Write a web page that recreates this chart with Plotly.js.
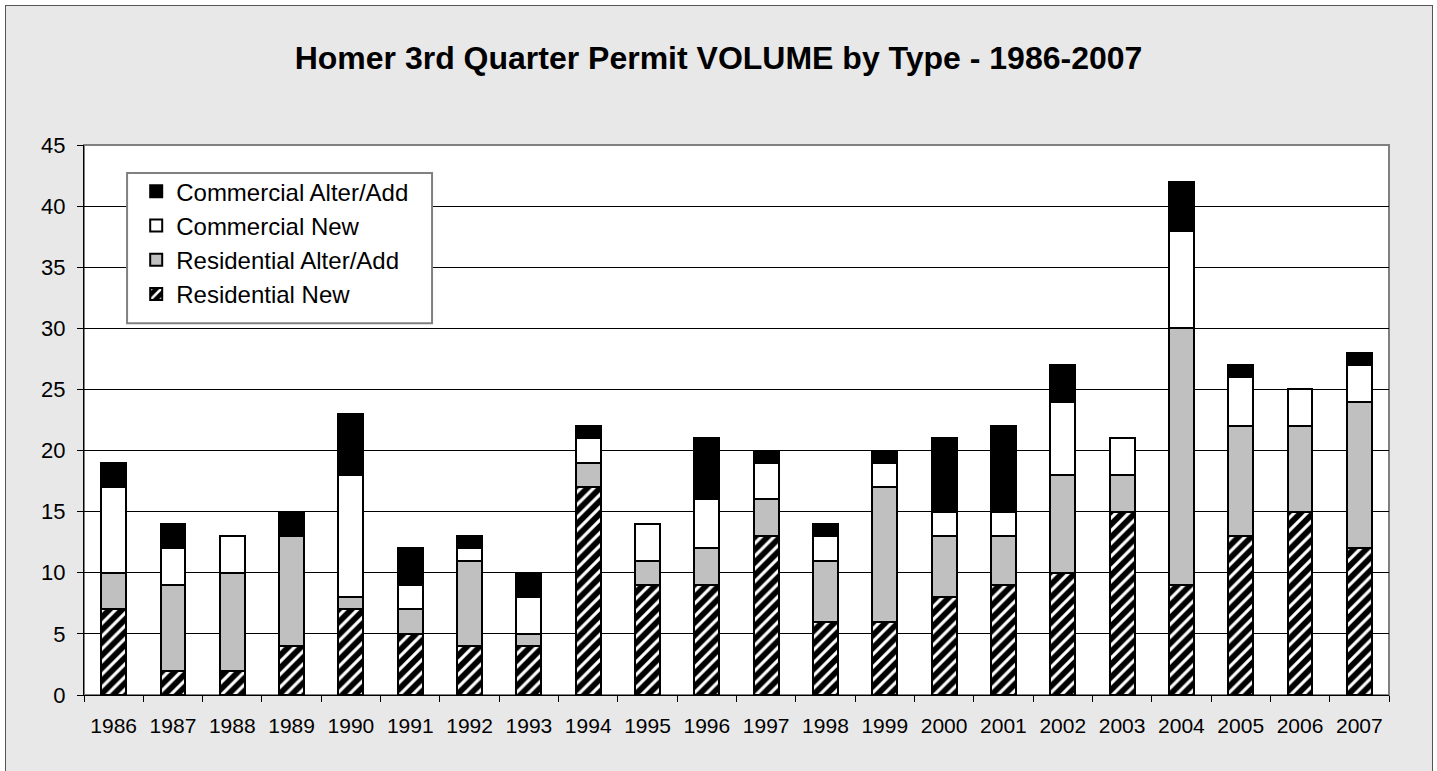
<!DOCTYPE html>
<html>
<head>
<meta charset="utf-8">
<script src="https://cdn.plot.ly/plotly-3.0.1.min.js"></script>
<style>
  html, body { margin: 0; padding: 0; background: #ffffff; }
  #frame { position: absolute; left: 5px; top: 5px; width: 1426px; height: 790px;
           background: #e8e8e8; border: 1px solid #555555; }
  #chart { position: absolute; left: 0; top: 0; width: 1437px; height: 771px; }
</style>
</head>
<body>
<div id="frame"></div>
<div id="chart"></div>
<script>
const years = ['1986','1987','1988','1989','1990','1991','1992','1993','1994','1995','1996',
               '1997','1998','1999','2000','2001','2002','2003','2004','2005','2006','2007'];
const residentialNew   = [7, 2, 2, 4, 7, 5, 4, 4, 17, 9, 9, 13, 6, 6, 8, 9, 10, 15, 9, 13, 15, 12];
const residentialAlter = [3, 7, 8, 9, 1, 2, 7, 1, 2, 2, 3, 3, 5, 11, 5, 4, 8, 3, 21, 9, 7, 12];
const commercialNew    = [7, 3, 3, 0, 10, 2, 1, 3, 2, 3, 4, 3, 2, 2, 2, 2, 6, 3, 8, 4, 3, 3];
const commercialAlter  = [2, 2, 0, 2, 5, 3, 1, 2, 1, 0, 5, 1, 1, 1, 6, 7, 3, 0, 4, 1, 0, 1];
const yTicks = [0, 5, 10, 15, 20, 25, 30, 35, 40, 45];

const line = {color: '#000000', width: 2};
const traces = [
  {name: 'Residential New', x: years, y: residentialNew, type: 'bar',
   marker: {color: '#000000', line: line,
            pattern: {shape: '/', fgcolor: '#ffffff', bgcolor: '#000000', size: 9, solidity: 0.35, fillmode: 'replace'}}},
  {name: 'Residential Alter/Add', x: years, y: residentialAlter, type: 'bar',
   marker: {color: '#c0c0c0', line: line}},
  {name: 'Commercial New', x: years, y: commercialNew, type: 'bar',
   marker: {color: '#ffffff', line: line}},
  {name: 'Commercial Alter/Add', x: years, y: commercialAlter, type: 'bar',
   marker: {color: '#000000', line: line}}
];

const layout = {
  width: 1437, height: 771,
  paper_bgcolor: 'rgba(0,0,0,0)',
  plot_bgcolor: '#ffffff',
  margin: {l: 84, r: 48, t: 145, b: 76, pad: 0},
  barmode: 'stack',
  bargap: 0.58,
  font: {family: 'Arial, "Liberation Sans", sans-serif', color: '#000000'},
  title: {text: '<b>Homer 3rd Quarter Permit VOLUME by Type - 1986-2007</b>',
          font: {size: 32, family: 'Arial, "Liberation Sans", sans-serif', color: '#000000'},
          x: 0.5, xanchor: 'center', y: 0.925, yanchor: 'middle'},
  xaxis: {type: 'category', showline: true, linecolor: '#000000', linewidth: 1,
          ticks: 'outside', tickson: 'boundaries', ticklen: 6, tickcolor: '#000000',
          ticklabelstandoff: 12,
          tickfont: {size: 21}, showgrid: false, zeroline: false, fixedrange: true},
  yaxis: {range: [0, 45], tickvals: yTicks, ticktext: yTicks.map(String),
          showline: true, linecolor: '#000000', linewidth: 1,
          ticks: 'outside', ticklen: 6, tickcolor: '#000000',
          ticklabelstandoff: 7,
          tickfont: {size: 22}, showgrid: true, gridcolor: '#000000', gridwidth: 1,
          zeroline: false, fixedrange: true},
  showlegend: true,
  legend: {traceorder: 'reversed', x: 0.04, y: 0.956, xanchor: 'left', yanchor: 'top',
           bgcolor: 'rgba(0,0,0,0)', borderwidth: 0, font: {size: 24}},
  shapes: [
    {type: 'rect', xref: 'paper', yref: 'paper', x0: 0, x1: 1, y0: 0, y1: 1,
     line: {color: '#808080', width: 2}, layer: 'below'},
    {type: 'rect', xref: 'paper', yref: 'paper', x0: 0.033, x1: 0.2667, y0: 0.676, y1: 0.949,
     line: {color: '#808080', width: 2}, fillcolor: '#ffffff', layer: 'above'}
  ]
};

Plotly.newPlot('chart', traces, layout, {displayModeBar: false, staticPlot: true});
</script>
</body>
</html>
